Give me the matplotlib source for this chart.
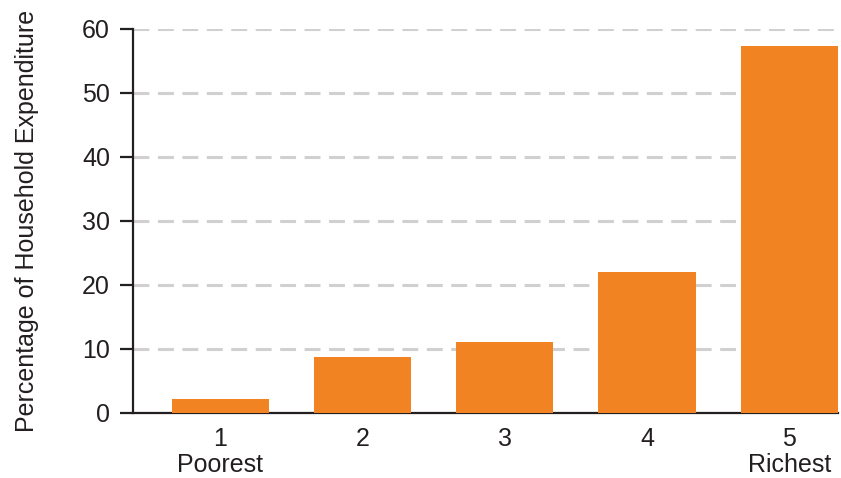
import matplotlib
matplotlib.use("Agg")
import matplotlib.pyplot as plt

# Household expenditure share by quintile
quintiles = [1, 2, 3, 4, 5]
tick_labels = ["1\nPoorest", "2", "3", "4", "5\nRichest"]
expenditure = [2.2, 8.7, 11.1, 22.0, 57.3]

plt.rcParams['font.family'] = ['Liberation Sans', 'DejaVu Sans']

fig = plt.figure(figsize=(8.41, 4.78), dpi=100)
ax = fig.add_axes([133 / 841, 1 - 413 / 478, (838 - 133) / 841, (413 - 29) / 478])

ax.bar(quintiles, expenditure, width=0.683, color='#F28322', zorder=3)

ax.set_xlim(1 - 87 / 142, 5 + 48.5 / 142)
ax.set_ylim(0, 60)
ax.set_yticks(range(0, 61, 10))
ax.set_xticks(quintiles)
ax.set_xticklabels(tick_labels, fontsize=18, color='#231f20', linespacing=1.1, va='top')
ax.tick_params(axis='y', labelsize=18, labelcolor='#231f20', length=9.5, width=1.6,
               color='#231f20', pad=7)
ax.tick_params(axis='x', length=0, pad=10)

ax.grid(axis='y', color='#d0d0d0', linewidth=2.2, linestyle=(0, (5.2, 2.8)), zorder=0)
ax.set_axisbelow(True)

for side in ['top', 'right']:
    ax.spines[side].set_visible(False)
for side in ['left', 'bottom']:
    ax.spines[side].set_linewidth(1.6)
    ax.spines[side].set_color('#231f20')

ax.set_ylabel('Percentage of Household Expenditure', fontsize=18, color='#231f20', labelpad=31)

fig.savefig('out.png', dpi=100)
